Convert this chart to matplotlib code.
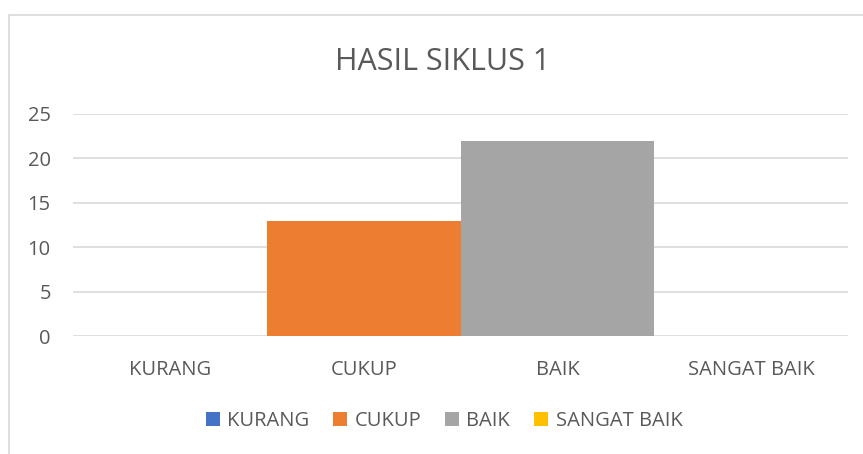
import matplotlib
matplotlib.use('Agg')
import matplotlib.pyplot as plt
from matplotlib.patches import Patch, Rectangle

# data
categories = ['KURANG', 'CUKUP', 'BAIK', 'SANGAT BAIK']
values = [0, 13, 22, 0]
colors = ['#4472C4', '#ED7D31', '#A5A5A5', '#FFC000']
yticks = [0, 5, 10, 15, 20, 25]

plt.rcParams['font.family'] = ['Open Sans', 'DejaVu Sans']
text_color = '#595959'
grid_color = '#d9d9d9'

fig = plt.figure(figsize=(8.63, 4.54), dpi=100)
W, H = 863, 454

# chart frame (left/top visible, rest cut off)
fig.patches.append(Rectangle((9 / W, -0.1), 1.2, 1 - 15 / H + 0.1, transform=fig.transFigure,
                             fill=False, edgecolor=grid_color, linewidth=1.2))

ax = fig.add_axes([73 / W, 1 - 336 / H, (848 - 73) / W, (336 - 114) / H])
ax.bar(range(len(categories)), values, width=1.0, color=colors, zorder=2)

ax.set_xlim(-0.5, len(categories) - 0.5)
ax.set_ylim(0, 25)
ax.set_yticks(yticks)
ax.set_xticks(range(len(categories)))
ax.set_xticklabels(categories)
ax.yaxis.grid(True, color=grid_color, linewidth=1.2, zorder=0)
ax.set_axisbelow(True)
for s in ax.spines.values():
    s.set_visible(False)
ax.tick_params(axis='both', length=0, labelsize=14.5, labelcolor=text_color)
ax.tick_params(axis='y', pad=16)
ax.tick_params(axis='x', pad=17)

fig.text(443 / W, 1 - 62 / H, 'HASIL SIKLUS 1', ha='center', va='center',
         fontsize=22, color=text_color)

handles = [Patch(facecolor=c, edgecolor='none') for c in colors]
leg = fig.legend(handles, categories, loc='center', bbox_to_anchor=(444 / W, 1 - 421 / H),
                 ncol=4, frameon=False, fontsize=14.5, handlelength=0.7, handleheight=0.7,
                 handletextpad=0.35, columnspacing=1.2, borderaxespad=0)
for t in leg.get_texts():
    t.set_color(text_color)

fig.savefig('out.png', dpi=100)
